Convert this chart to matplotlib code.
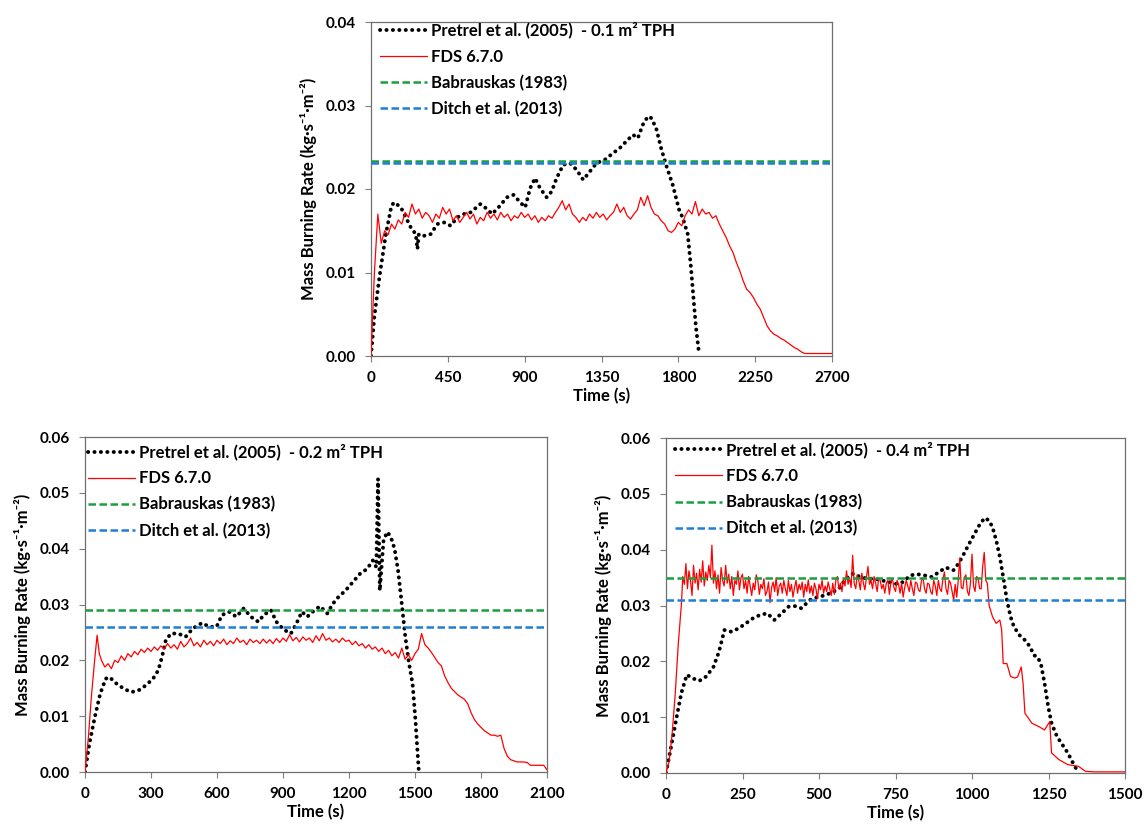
import numpy as np
import matplotlib
matplotlib.use("Agg")
import matplotlib.pyplot as plt

plt.rcParams['font.family'] = ['Lato', 'DejaVu Sans']
plt.rcParams['font.weight'] = 'bold'

# ---------------- data (mass burning rate in 1e-4 kg/s/m2) ----------------
# Top panel: 0.1 m2 TPH
top_exp_t = [0, 19, 49, 87, 120, 136, 175, 204, 233, 262, 272, 280, 311, 350, 388, 427, 466, 505, 544, 583,
             641, 680, 709, 747, 796, 835, 874, 903, 932, 961, 990, 1029, 1058, 1087, 1126, 1165, 1204, 1243,
             1282, 1321, 1369, 1418, 1457, 1495, 1534, 1563, 1592, 1622, 1641, 1670, 1699, 1728, 1767, 1806,
             1825, 1855, 1874, 1890, 1903, 1920]
top_exp_v = [0, 46, 94, 146, 180, 184, 178, 166, 154, 146, 128, 146, 144, 146, 158, 160, 156, 166, 170, 172,
             182, 176, 170, 178, 190, 193, 184, 178, 201, 213, 201, 190, 197, 213, 229, 231, 223, 211,
             221, 231, 235, 243, 249, 257, 265, 261, 277, 287, 285, 273, 249, 229, 205, 174,
             166, 146, 106, 66, 35, 5]

top_fds_t = list(range(0, 2701, 20))
top_fds_v = [0, 100, 170, 135, 150, 145, 158, 152, 163, 158, 172, 166, 182, 170, 176, 165, 172, 168, 160, 170,
             165, 178, 170, 176, 162, 168, 160, 166, 172, 164, 170, 158, 166, 162, 172, 165, 170, 163, 172, 166,
             170, 162, 168, 165, 172, 166, 170, 163, 168, 160, 166, 162, 168, 165, 172, 178, 186, 175, 182, 170,
             166, 160, 166, 162, 170, 165, 172, 166, 170, 163, 168, 172, 182, 172, 178, 168, 164, 170, 175, 190,
             180, 192, 178, 170, 168, 162, 158, 150, 148, 152, 160, 156, 168, 175, 170, 185, 168, 176, 170, 172,
             165, 168, 158, 150, 142, 132, 124, 112, 102, 90, 80, 76, 70, 62, 56, 46, 36, 30, 26, 24,
             21, 19, 16, 13, 10, 8, 5, 3, 3, 3, 3, 3, 3, 3, 3, 3]

top_babrauskas = 0.0234
top_ditch = 0.0231

# Bottom-left panel: 0.2 m2 TPH
bl_exp_t = [0, 20, 45, 69, 94, 111, 144, 177, 210, 243, 276, 309, 333, 350, 367, 391, 424, 457, 490, 532,
            565, 598, 622, 655, 688, 721, 754, 788, 812, 845, 870, 903, 936, 961, 986, 1010, 1035, 1068,
            1101, 1126, 1151, 1184, 1217, 1250, 1283, 1308, 1324, 1332, 1340, 1357, 1374, 1390, 1407, 1423,
            1440, 1456, 1473, 1489, 1502, 1511, 1517]
bl_exp_v = [0, 51, 99, 140, 167, 170, 158, 149, 143, 146, 155, 167, 182, 206, 236, 248, 248, 242, 257, 267,
            260, 260, 281, 287, 278, 293, 278, 269, 281, 290, 269, 255, 248, 266, 287, 278, 287, 297,
            284, 301, 313, 325, 340, 355, 364, 379, 367, 525, 325, 415, 430, 421, 400, 361,
            301, 242, 194, 158, 93, 39, 3]

bl_fds_t = [0, 15, 30, 45, 55, 65, 75] + list(range(90, 2101, 15))
bl_fds_v = [0, 60, 140, 205, 245, 212, 200,
            188, 194, 185, 200, 196, 208, 200, 212, 206, 216, 210, 220, 214, 222, 216, 224, 218, 226, 220,
            230, 222, 228, 220, 234, 224, 230, 240, 226, 232, 224, 236, 228, 234, 226, 236, 230, 238, 228,
            235, 230, 240, 232, 236, 228, 238, 232, 236, 230, 238, 231, 237, 230, 239, 232, 240, 234, 246,
            235, 241, 233, 242, 236, 240, 232, 244, 235, 248, 236, 240, 233, 238, 232, 240, 234, 236, 228,
            234, 226, 230, 222, 228, 220, 224, 216, 222, 212, 218, 208, 214, 204, 222, 202, 210, 200, 212,
            220, 248, 228, 222, 214, 205, 196, 190, 172, 160, 150, 144, 138, 134, 130, 122, 106, 94, 86,
            80, 74, 70, 66, 66, 64, 66, 42, 28, 22, 20, 18, 18, 18, 17, 12, 12, 12, 12, 12, 4]

bl_babrauskas = 0.029
bl_ditch = 0.026

# Bottom-right panel: 0.4 m2 TPH
br_exp_t = [0, 15, 33, 50, 68, 85, 109, 132, 155, 173, 191, 214, 237, 261, 284, 307, 331, 354, 378, 401,
            424, 442, 471, 494, 518, 541, 565, 588, 611, 635, 658, 682, 705, 728, 752, 775, 798, 822, 845,
            869, 892, 915, 939, 956, 974, 991, 1009, 1026, 1042, 1056, 1067, 1079, 1091, 1102, 1114, 1126,
            1137, 1155, 1173, 1190, 1202, 1214, 1225, 1237, 1249, 1260, 1278, 1295, 1313, 1330, 1342]
br_exp_v = [0, 42, 95, 143, 176, 170, 165, 173, 190, 217, 256, 253, 259, 268, 277, 283, 286, 274, 286, 298,
            299, 295, 310, 315, 318, 323, 330, 348, 357, 351, 348, 348, 345, 342, 339, 342, 354, 356, 354,
            351, 360, 368, 363, 375, 393, 411, 429, 446, 457, 452, 440, 417, 387, 351, 310, 280,
            262, 247, 238, 226, 211, 208, 196, 161, 119, 89, 65, 51, 36, 18, 6]

br_fds_t = ([0, 10, 20, 30, 40] + list(range(50, 1046, 5)) +
            [1050, 1056, 1067, 1079, 1091, 1097, 1102, 1114, 1126, 1140, 1149, 1161, 1167, 1173, 1196,
             1219, 1237, 1254, 1260, 1284, 1313, 1348, 1371, 1400, 1450, 1500])
br_fds_v = ([0, 20, 70, 140, 230] +
            [300, 352, 338, 375, 330, 362, 345, 318, 372, 340, 358, 328, 365, 342, 380, 335, 360, 345, 372, 350,
             408, 340, 362, 330, 355, 322, 368, 345, 335, 372, 340, 356, 330, 352, 318, 345, 338, 362, 328, 350,
             356, 330, 345, 322, 352, 335, 318, 340, 328, 355, 345, 320, 338, 330, 348, 318, 325, 342, 305, 332,
             342, 325, 350, 318, 335, 340, 322, 345, 330, 318, 345, 325, 338, 315, 332, 345, 322, 338, 328, 342,
             315, 338, 325, 346, 322, 335, 318, 340, 330, 312, 338, 328, 345, 322, 335, 325, 342, 330, 318, 340,
             320, 345, 352, 330, 340, 325, 348, 335, 362, 338, 350, 332, 390, 340, 330, 355, 345, 328, 358, 340,
             328, 350, 370, 338, 345, 330, 352, 340, 325, 348, 345, 330, 338, 322, 340, 345, 320, 342, 348, 332,
             325, 345, 338, 322, 340, 315, 332, 345, 335, 325, 345, 330, 318, 342, 340, 328, 325, 345, 350, 330,
             322, 340, 338, 325, 320, 345, 335, 318, 345, 330, 325, 348, 360, 330, 320, 345, 340, 325, 310, 338,
             315, 345, 385, 332, 330, 350, 355, 325, 318, 340, 392, 335, 325, 352, 348, 330, 330, 370, 395, 345] +
            [340, 300, 280, 268, 274, 256, 196, 196, 173, 170, 172, 190, 160, 107, 89,
             83, 77, 92, 36, 24, 15, 12, 3, 2, 2, 2])

br_babrauskas = 0.035
br_ditch = 0.031

panels = [
    dict(rect=[371 / 1146, 1 - 356 / 824, 461 / 1146, 334 / 824],
         exp_t=top_exp_t, exp_v=top_exp_v, fds_t=top_fds_t, fds_v=top_fds_v,
         bab=top_babrauskas, ditch=top_ditch, area='0.1', xmax=2700, xstep=450, ymax=0.04,
         anchor=(0.005, 1.02)),
    dict(rect=[85 / 1146, 1 - 772 / 824, 462 / 1146, 335 / 824],
         exp_t=bl_exp_t, exp_v=bl_exp_v, fds_t=bl_fds_t, fds_v=bl_fds_v,
         bab=bl_babrauskas, ditch=bl_ditch, area='0.2', xmax=2100, xstep=300, ymax=0.06,
         anchor=(-0.008, 1.0)),
    dict(rect=[666 / 1146, 1 - 773 / 824, 459 / 1146, 335 / 824],
         exp_t=br_exp_t, exp_v=br_exp_v, fds_t=br_fds_t, fds_v=br_fds_v,
         bab=br_babrauskas, ditch=br_ditch, area='0.4', xmax=1500, xstep=250, ymax=0.06,
         anchor=(0.005, 1.01)),
]

GREEN = '#1A9E3F'
BLUE = '#1E7FD6'

fig = plt.figure(figsize=(11.46, 8.24), dpi=100)
for p in panels:
    ax = fig.add_axes(p['rect'])
    ax.plot(p['exp_t'], np.array(p['exp_v']) / 1e4, color='black', lw=2.8,
            linestyle=(0, (0.05, 1.6)), dash_capstyle='round',
            label=f"Pretrel et al. (2005)  - {p['area']} m² TPH", zorder=2)
    ax.plot(p['fds_t'], np.array(p['fds_v']) / 1e4, color='#FF0000', lw=0.9,
            label='FDS 6.7.0', zorder=3)
    ax.axhline(p['bab'], color=GREEN, lw=1.8, linestyle=(0, (3, 1.4)),
               label='Babrauskas (1983)', zorder=4)
    ax.axhline(p['ditch'], color=BLUE, lw=1.8, linestyle=(0, (3, 1.4)),
               label='Ditch et al. (2013)', zorder=4)
    ax.set_xlim(0, p['xmax'])
    ax.set_ylim(0, p['ymax'])
    ax.set_xticks(np.arange(0, p['xmax'] + 1, p['xstep']))
    yt = np.arange(0, p['ymax'] + 1e-9, 0.01)
    ax.set_yticks(yt)
    ax.set_yticklabels([f"{v:.2f}" for v in yt])
    ax.tick_params(direction='out', length=4, width=0.8, colors='#7f7f7f', labelcolor='black',
                   labelsize=11, pad=7)
    for s in ax.spines.values():
        s.set_color('#6f6f6f')
        s.set_linewidth(0.9)
    ax.set_xlabel('Time (s)', fontsize=12, fontweight='bold', labelpad=2)
    ax.set_ylabel('Mass Burning Rate (kg·s⁻¹·m⁻²)', fontsize=12, fontweight='bold', labelpad=6)
    leg = ax.legend(loc='upper left', bbox_to_anchor=p['anchor'], frameon=False, fontsize=12,
                    handlelength=2.8, handletextpad=0.25, labelspacing=0.6, borderaxespad=0.2,
                    borderpad=0.2)
    for t in leg.get_texts():
        t.set_fontweight('bold')

fig.savefig('out.png', dpi=100)
